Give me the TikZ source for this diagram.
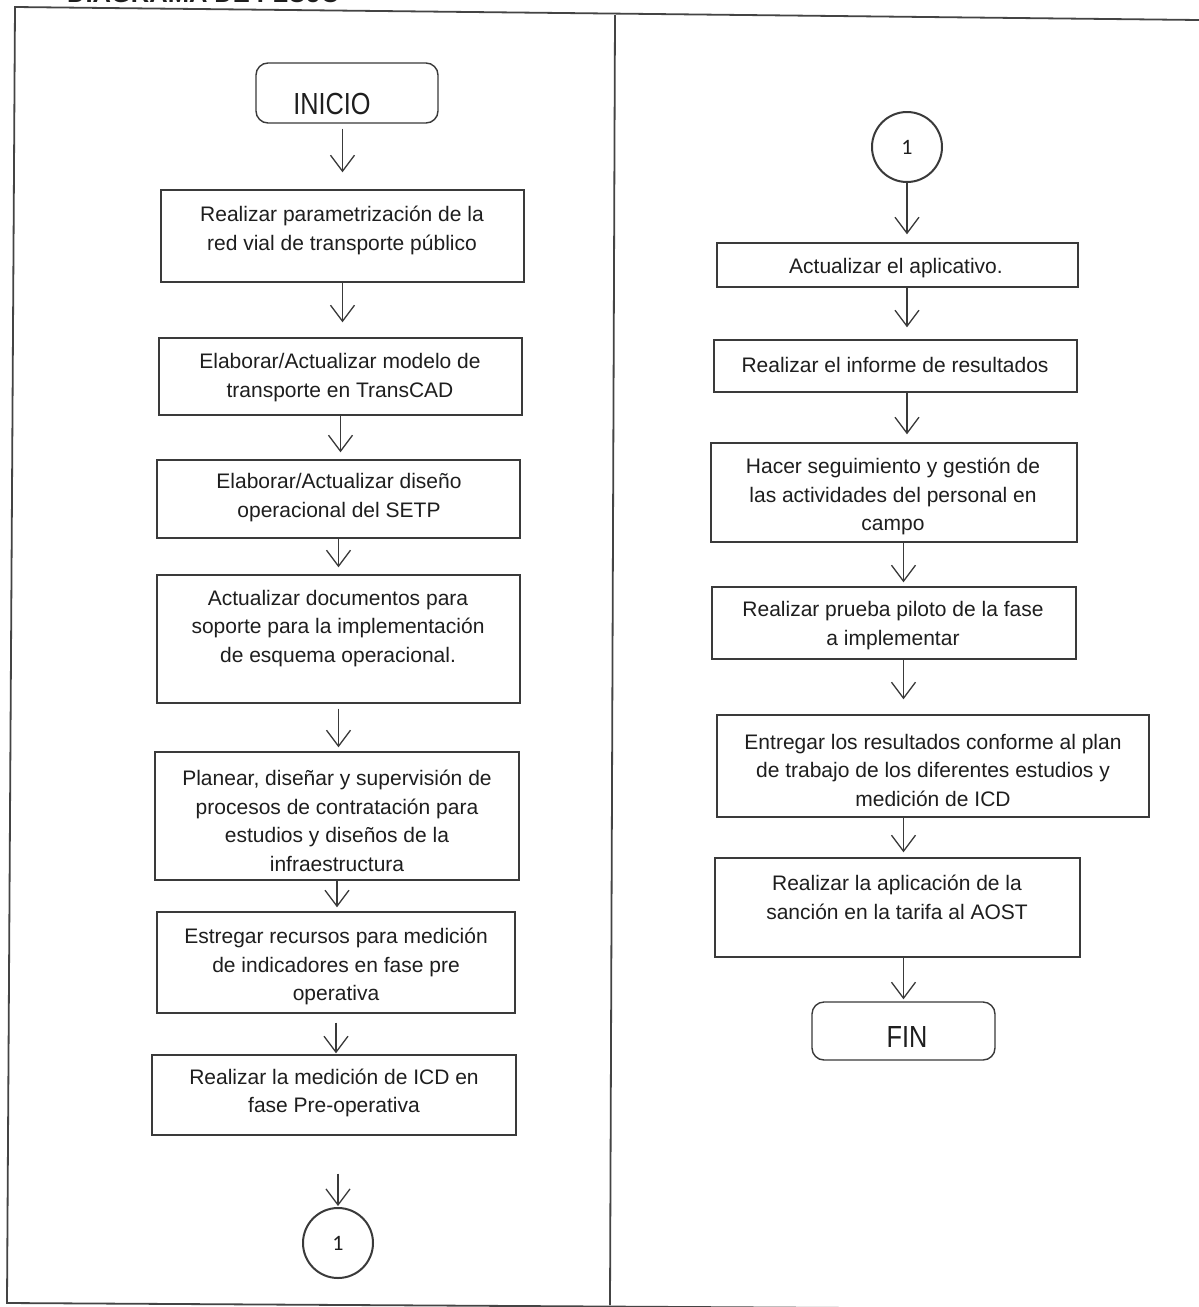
\documentclass[tikz,border=0pt]{standalone}
\usepackage{fontspec}
\setmainfont{Liberation Sans}
\newfontfamily\narrowsans{Liberation Sans}[FakeStretch=0.83]
\newfontfamily\circfont{Carlito}
\usetikzlibrary{arrows.meta}
\definecolor{linecol}{HTML}{3A3A3A}
\definecolor{textcol}{HTML}{1E1E1E}
\definecolor{framecol}{HTML}{444444}
\tikzset{
  box/.style={draw=linecol, line width=1.4pt, rectangle, inner sep=0pt},
  term/.style={draw=linecol, line width=1.4pt, rectangle, rounded corners=12pt, inner sep=0pt},
  conn/.style={draw=linecol, line width=2pt, circle, minimum size=70pt, inner sep=0pt,
    text=textcol, font=\circfont\fontsize{22}{22}\selectfont},
  txt/.style={font=\fontsize{21}{28.5}\selectfont, text=textcol, align=center, inner sep=0pt},
  termtxt/.style={font=\narrowsans\fontsize{30.5}{30.5}\selectfont, text=textcol, inner sep=0pt},
  arr/.style={draw=linecol, line width=1.3pt, -{Straight Barb[length=16pt,width=24pt]}},
  frame/.style={draw=framecol, line width=1.8pt},
}
\begin{document}
\begin{tikzpicture}[x=1pt, y=-1pt]
\useasboundingbox (0,0) rectangle (1199,1307);
\fill[white] (0,0) rectangle (1199,1307);
% title (cut off at the top edge, as in the scan)
\node[font=\bfseries\fontsize{25.5}{25.5}\selectfont, text=textcol, anchor=base west, inner sep=0pt] (title) at (67,2) {DIAGRAMA DE FLUJO};
% frame
\draw[frame] (1199,20) -- (15,7) -- (7,1303) -- (1199,1310);
\draw[frame] (615,15) -- (610,1305);

% ---------- left column ----------
\node[term, minimum width=182pt, minimum height=60pt] (INI) at (347,93) {};
\node[termtxt] (INIt) at (332,104) {INICIO};

\node[box, minimum width=363pt, minimum height=92pt] (L1) at (342.5,236) {};
\node[txt] (L1t) at (342,230.5) {Realizar parametrización de la\\red vial de transporte público};

\node[box, minimum width=363pt, minimum height=77pt] (L2) at (340.5,376.5) {};
\node[txt] (L2t) at (340,377.5) {Elaborar/Actualizar modelo de\\transporte en TransCAD};

\node[box, minimum width=363pt, minimum height=78pt] (L3) at (338.5,499) {};
\node[txt] (L3t) at (339,497.5) {Elaborar/Actualizar diseño\\operacional del SETP};

\node[box, minimum width=363pt, minimum height=128pt] (L4) at (338.5,639) {};
\node[txt] (L4t) at (338,628.5) {Actualizar documentos para\\soporte para la implementación\\de esquema operacional.};

\node[box, minimum width=364pt, minimum height=128pt] (L5) at (337,816) {};
\node[txt] (L5t) at (337,821) {Planear, diseñar y supervisión de\\procesos de contratación para\\estudios y diseños de la\\infraestructura};

\node[box, minimum width=358pt, minimum height=101pt] (L6) at (336,962.5) {};
\node[txt] (L6t) at (336,966.5) {Estregar recursos para medición\\de indicadores en fase pre\\operativa};

\node[box, minimum width=364pt, minimum height=80pt] (L7) at (334,1095) {};
\node[txt] (L7t) at (334,1093) {Realizar la medición de ICD en\\fase Pre-operativa};

\node[conn] (C1) at (338,1243) {1};

\draw[arr, shorten <=5pt, shorten >=17pt] (L1.north |- INI.south) -- (L1.north);
\draw[arr, shorten >=15pt] (L1.south) -- (L1.south |- L2.north);
\draw[arr, shorten >=7pt] (L2.south) -- (L2.south |- L3.north);
\draw[arr, shorten >=7pt] (L3.south) -- (L3.south |- L4.north);
\draw[arr, shorten <=5pt, shorten >=4pt] (L4.south) -- (L4.south |- L5.north);
\draw[arr, shorten >=4pt] (L5.south) -- (L5.south |- L6.north);
\draw[arr, shorten <=9pt, shorten >=1pt] (L6.south) -- (L6.south |- L7.north);
\draw[arr, shorten <=38pt, shorten >=1pt] (C1.north |- L7.south) -- (C1.north);

% ---------- right column ----------
\node[conn] (C2) at (907,147) {1};

\node[box, minimum width=361pt, minimum height=44pt] (R1) at (897.5,265) {};
\node[txt] (R1t) at (896,268.5) {Actualizar el aplicativo.};

\node[box, minimum width=363pt, minimum height=52pt] (R2) at (895.5,366) {};
\node[txt] (R2t) at (895,364.5) {Realizar el informe de resultados};

\node[box, minimum width=366pt, minimum height=99pt] (R3) at (894,492.5) {};
\node[txt] (R3t) at (893,496.5) {Hacer seguimiento y gestión de\\las actividades del personal en\\campo};

\node[box, minimum width=364pt, minimum height=72pt] (R4) at (894,623) {};
\node[txt] (R4t) at (893,625.5) {Realizar prueba piloto de la fase\\a implementar};

\node[box, minimum width=432pt, minimum height=102pt] (R5) at (933,766) {};
\node[txt] (R5t) at (933,770) {Entregar los resultados conforme al plan\\de trabajo de los diferentes estudios y\\medición de ICD};

\node[box, minimum width=365pt, minimum height=99pt] (R6) at (897.5,907.5) {};
\node[txt] (R6t) at (897,897.5) {Realizar la aplicación de la\\sanción en la tarifa al AOST};

\node[term, minimum width=183pt, minimum height=58pt] (FIN) at (903.5,1031) {};
\node[termtxt] (FINt) at (907,1037) {FIN};

\draw[arr, shorten >=8pt] (C2.south) -- (C2.south |- R1.north);
\draw[arr, shorten >=12pt] (R1.south -| C2) -- (R2.north -| C2);
\draw[arr, shorten >=8pt] (R2.south -| C2) -- (R3.north -| C2);
\draw[arr, shorten >=4pt] (R3.south -| FIN) -- (R4.north -| FIN);
\draw[arr, shorten >=15pt] (R4.south -| FIN) -- (R5.north -| FIN);
\draw[arr, shorten >=5pt] (R5.south -| FIN) -- (R6.north -| FIN);
\draw[arr, shorten >=2pt] (R6.south -| FIN) -- (FIN.north);
\end{tikzpicture}
\end{document}
